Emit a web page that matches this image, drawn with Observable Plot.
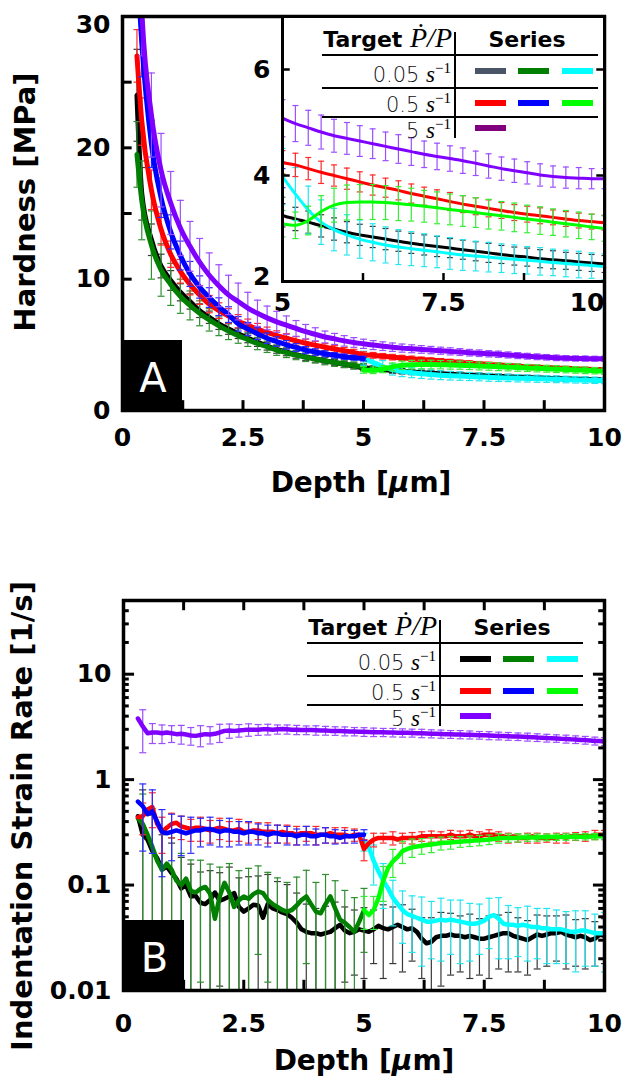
<!DOCTYPE html>
<html>
<head>
<meta charset="utf-8">
<script src="https://cdn.jsdelivr.net/npm/d3@7"></script>
<script src="https://cdn.jsdelivr.net/npm/@observablehq/plot@0.6"></script>
<style>
  body { margin: 0; background: #fff; }
  #root { position: relative; width: 627px; height: 1082px; overflow: hidden; background: #fff; }
  #root > svg { position: absolute; }
</style>
</head>
<body>
<div id="root"></div>
<script>
// ================= DATA =================
// ---- Panel A: Hardness [MPa] vs Depth [um] ----
const depthA = [0.3,0.4,0.6,0.8,1.0,1.2,1.4,1.6,1.8,2.0,2.2,2.4,2.6,2.8,3.0,3.2,3.4,3.6,3.8,4.0,4.2,4.4,4.6,4.8,5.0,
  5.2,5.4,5.6,5.8,6.0,6.2,6.4,6.6,6.8,7.0,7.2,7.4,7.6,7.8,8.0,8.2,8.4,8.6,8.8,9.0,9.2,9.4,9.6,9.8,10.0];
const depthA1 = depthA.slice(0, 25);   // 0.3 .. 5.0
const depthA2 = depthA.slice(24);      // 5.0 .. 10.0

const hardBlack = [24,16.5,13.0,11.0,9.9,9.0,8.3,7.6,7.1,6.6,6.2,5.85,5.5,5.2,4.9,4.65,4.45,4.25,4.08,3.93,3.79,3.65,3.52,3.4,3.25,
  3.18,3.12,3.05,2.99,2.93,2.88,2.84,2.8,2.76,2.72,2.69,2.66,2.63,2.6,2.57,2.54,2.51,2.48,2.46,2.43,2.41,2.39,2.37,2.35,2.33];
const errBlackA = [3.5,2.0,1.2,0.9,0.75,0.65,0.58,0.52,0.47,0.43,0.4,0.37,0.34,0.32,0.3,0.29,0.28,0.27,0.26,0.25,0.24,0.24,0.23,0.23,0.22,
  0.22,0.21,0.21,0.21,0.2,0.2,0.2,0.2,0.19,0.19,0.19,0.19,0.18,0.18,0.18,0.18,0.17,0.17,0.17,0.17,0.17,0.16,0.16,0.16,0.16];
const hardGreen = [19.5,16.0,12.6,10.7,9.6,8.7,8.0,7.4,6.9,6.45,6.05,5.7,5.4,5.1,4.85,4.6,4.4,4.22,4.06,3.92,3.78,3.65,3.54,3.43,3.33];
const errGreenA = [2.5,3.0,2.6,2.0,1.6,1.3,1.1,0.95,0.85,0.75,0.65,0.58,0.52,0.47,0.43,0.4,0.37,0.35,0.33,0.31,0.3,0.29,0.28,0.27,0.26];
const hardCyan = [3.98,3.65,3.35,3.12,2.98,2.88,2.8,2.74,2.69,2.65,2.62,2.59,2.56,2.53,2.5,2.48,2.46,2.44,2.42,2.4,2.38,2.36,2.34,2.32,2.3,2.28];
const errCyanA = [0.53,0.5,0.45,0.42,0.4,0.38,0.36,0.35,0.34,0.33,0.32,0.31,0.3,0.3,0.29,0.28,0.28,0.27,0.27,0.26,0.26,0.25,0.25,0.25,0.24,0.24];
const hardRed = [27,22,16.8,13.8,11.9,10.6,9.6,8.8,8.1,7.6,7.2,6.8,6.5,6.2,5.95,5.7,5.5,5.3,5.12,4.97,4.82,4.68,4.55,4.42,4.25,
  4.2,4.13,4.06,4.0,3.94,3.88,3.82,3.77,3.72,3.66,3.61,3.56,3.51,3.46,3.42,3.38,3.34,3.3,3.27,3.24,3.21,3.18,3.15,3.13,3.11];
const errRedA = [2.0,1.8,1.5,1.2,1.0,0.9,0.8,0.72,0.66,0.6,0.55,0.5,0.46,0.43,0.4,0.37,0.35,0.33,0.31,0.29,0.27,0.26,0.25,0.24,0.22,
  0.22,0.21,0.21,0.2,0.2,0.19,0.19,0.18,0.18,0.18,0.17,0.17,0.17,0.16,0.16,0.16,0.15,0.15,0.15,0.15,0.14,0.14,0.14,0.14,0.14];
const hardBlue = [34,28,20.3,16.2,13.6,11.8,10.4,9.4,8.6,7.9,7.3,6.6,6.2,5.85,5.5,5.25,5.0,4.8,4.6,4.45,4.32,4.2,4.1,4.02,3.95];
const errBlueA = [3.0,2.6,1.8,1.5,1.3,1.1,0.95,0.85,0.75,0.68,0.6,0.55,0.5,0.45,0.4,0.36,0.33,0.3,0.27,0.25,0.23,0.21,0.2,0.19,0.18];
const hardLime = [3.09,3.06,3.15,3.32,3.44,3.49,3.5,3.5,3.49,3.47,3.45,3.42,3.39,3.36,3.33,3.3,3.27,3.24,3.21,3.18,3.15,3.12,3.09,3.06,3.03,3.0];
const errLimeA = [0.25,0.25,0.27,0.3,0.32,0.33,0.33,0.33,0.32,0.32,0.31,0.3,0.3,0.29,0.29,0.28,0.28,0.27,0.27,0.26,0.26,0.25,0.25,0.25,0.24,0.24];
const hardPurple = [40,30.5,22.5,18.3,15.8,13.9,12.5,11.3,10.3,9.5,8.8,8.3,7.8,7.4,7.05,6.75,6.5,6.25,6.0,5.8,5.6,5.45,5.3,5.18,5.08,
  4.98,4.9,4.82,4.75,4.7,4.65,4.6,4.55,4.5,4.45,4.4,4.36,4.32,4.28,4.23,4.18,4.13,4.09,4.05,4.01,3.98,3.96,3.95,3.94,3.94];
const errPurpleA = [4,3.5,3.2,2.8,2.4,2.1,1.9,1.8,1.7,1.6,1.5,1.4,1.2,1.0,0.9,0.8,0.7,0.6,0.55,0.5,0.45,0.42,0.4,0.37,0.35,
  0.34,0.33,0.32,0.31,0.3,0.29,0.28,0.27,0.27,0.26,0.25,0.25,0.24,0.24,0.23,0.23,0.22,0.22,0.21,0.21,0.2,0.2,0.2,0.19,0.19];

// ---- Panel B: Indentation strain rate [1/s] vs Depth [um] ----
const depthB = [0.3,0.4,0.5,0.6,0.7,0.8,0.9,1.0,1.1,1.2,1.3,1.4,1.5,1.6,1.7,1.8,1.9,2.0,2.1,2.2,2.3,2.4,2.5,2.6,2.7,2.8,2.9,3.0,
  3.1,3.2,3.3,3.4,3.5,3.6,3.7,3.8,3.9,4.0,4.1,4.2,4.3,4.4,4.5,4.6,4.7,4.8,4.9,5.0,5.1,5.2,5.3,5.4,5.5,5.6,5.7,5.8,5.9,6.0,
  6.1,6.2,6.3,6.4,6.5,6.6,6.7,6.8,6.9,7.0,7.1,7.2,7.3,7.4,7.5,7.6,7.7,7.8,7.9,8.0,8.1,8.2,8.3,8.4,8.5,8.6,8.7,8.8,8.9,9.0,
  9.1,9.2,9.3,9.4,9.5,9.6,9.7,9.8,9.9,10.0];
const depthB1 = depthB.slice(0, 48);  // 0.3 .. 5.0
const depthB2 = depthB.slice(47);     // 5.0 .. 10.0

const rateBlack = [0.45,0.30,0.27,0.21,0.18,0.14,0.15,0.13,0.115,0.093,
  0.10,0.078,0.079,0.068,0.066,0.072,0.085,0.071,0.074,0.078,
  0.084,0.062,0.056,0.060,0.065,0.064,0.049,0.066,0.060,0.058,
  0.055,0.053,0.049,0.044,0.038,0.036,0.035,0.035,0.034,0.035,
  0.036,0.039,0.042,0.037,0.035,0.036,0.038,0.037,0.036,0.038,
  0.041,0.039,0.038,0.040,0.042,0.040,0.038,0.039,0.036,0.031,
  0.028,0.029,0.032,0.033,0.033,0.034,0.033,0.033,0.032,0.033,
  0.032,0.031,0.031,0.032,0.033,0.034,0.035,0.035,0.033,0.032,
  0.031,0.030,0.032,0.034,0.033,0.034,0.035,0.035,0.036,0.034,
  0.033,0.032,0.033,0.032,0.030,0.031,0.034,0.033];
const rateGreen = [0.43,0.38,0.30,0.23,0.17,0.14,0.16,0.14,0.11,0.10,
  0.115,0.088,0.085,0.092,0.096,0.083,0.048,0.078,0.105,0.085,
  0.062,0.072,0.078,0.074,0.082,0.087,0.084,0.072,0.066,0.062,
  0.058,0.056,0.058,0.064,0.072,0.078,0.066,0.056,0.054,0.066,
  0.078,0.060,0.047,0.044,0.040,0.036,0.045,0.058];
const rateCyan = [0.26,0.23,0.17,0.135,0.11,0.093,0.076,0.066,0.058,0.053,
  0.051,0.049,0.047,0.045,0.045,0.046,0.047,0.046,0.047,0.046,
  0.045,0.044,0.043,0.043,0.044,0.046,0.050,0.052,0.048,0.043,
  0.042,0.042,0.041,0.042,0.041,0.040,0.040,0.039,0.039,0.038,
  0.038,0.038,0.037,0.036,0.036,0.037,0.037,0.036,0.035,0.035,0.035];
const rateRed = [0.44,0.45,0.52,0.55,0.38,0.32,0.35,0.38,0.39,0.36,
  0.35,0.34,0.35,0.35,0.34,0.33,0.34,0.35,0.34,0.33,
  0.33,0.34,0.32,0.32,0.33,0.33,0.32,0.32,0.32,0.31,
  0.32,0.31,0.31,0.30,0.31,0.31,0.31,0.30,0.30,0.30,
  0.31,0.30,0.30,0.30,0.29,0.30,0.30,0.22,0.25,0.27,
  0.28,0.28,0.28,0.28,0.27,0.28,0.28,0.28,0.28,0.29,
  0.29,0.29,0.29,0.29,0.29,0.30,0.29,0.29,0.29,0.30,
  0.29,0.29,0.30,0.30,0.30,0.29,0.29,0.28,0.29,0.28,
  0.28,0.28,0.29,0.28,0.28,0.28,0.28,0.28,0.29,0.28,
  0.29,0.29,0.29,0.29,0.29,0.30,0.30,0.30];
const rateBlue = [0.62,0.56,0.47,0.50,0.40,0.32,0.31,0.32,0.33,0.32,
  0.31,0.32,0.33,0.33,0.34,0.34,0.33,0.32,0.33,0.33,
  0.32,0.32,0.31,0.32,0.32,0.31,0.31,0.30,0.31,0.31,
  0.30,0.30,0.30,0.29,0.30,0.30,0.29,0.29,0.30,0.30,
  0.29,0.29,0.28,0.29,0.29,0.29,0.30,0.30];
const rateLime = [0.058,0.052,0.058,0.075,0.11,0.145,0.168,0.185,0.21,0.22,
  0.228,0.232,0.236,0.24,0.243,0.246,0.25,0.252,0.254,0.256,
  0.258,0.26,0.262,0.264,0.266,0.268,0.27,0.274,0.278,0.279,
  0.28,0.28,0.281,0.282,0.282,0.283,0.283,0.284,0.284,0.285,
  0.285,0.286,0.286,0.287,0.287,0.288,0.288,0.289,0.289,0.29,0.29];
const ratePurple = [3.8,3.2,2.75,2.8,2.8,2.75,2.8,2.75,2.7,2.72,
  2.68,2.62,2.6,2.65,2.7,2.68,2.72,2.8,2.9,2.92,
  2.9,2.93,2.95,2.98,2.97,2.98,3.0,3.0,2.98,3.0,
  3.02,3.0,2.98,2.97,2.96,2.95,2.95,2.94,2.93,2.92,
  2.9,2.9,2.89,2.88,2.86,2.86,2.85,2.84,2.83,2.82,
  2.82,2.81,2.8,2.8,2.79,2.78,2.78,2.77,2.76,2.75,
  2.74,2.73,2.72,2.71,2.7,2.69,2.68,2.68,2.67,2.66,
  2.65,2.64,2.63,2.62,2.61,2.6,2.59,2.58,2.57,2.56,
  2.55,2.54,2.53,2.51,2.5,2.48,2.47,2.46,2.44,2.43,
  2.41,2.4,2.38,2.37,2.35,2.33,2.32,2.3];

// error bars in panel B (± in 1/s), drawn every 0.2 um
const depthErrB = [0.4,0.6,0.8,1.0,1.2,1.4,1.6,1.8,2.0,2.2,2.4,2.6,2.8,3.0,3.2,3.4,3.6,3.8,4.0,4.2,4.4,4.6,4.8,5.0,
  5.2,5.4,5.6,5.8,6.0,6.2,6.4,6.6,6.8,7.0,7.2,7.4,7.6,7.8,8.0,8.2,8.4,8.6,8.8,9.0,9.2,9.4,9.6,9.8,10.0];
const depthErrB1 = depthErrB.slice(0, 24); // 0.4 .. 5.0
const depthErrB2 = depthErrB.slice(23);    // 5.0 .. 10.0
const errBlackB = [0.5,0.25,0.16,0.12,0.09,0.08,0.065,0.065,0.06,0.07,0.055,0.06,0.058,0.06,0.05,0.048,0.04,0.03,0.025,0.028,
  0.03,0.025,0.022,0.024,0.02,0.026,0.022,0.025,0.02,0.018,0.02,0.022,0.02,0.018,0.02,0.017,0.019,0.018,0.02,0.017,
  0.016,0.018,0.017,0.016,0.018,0.015,0.016,0.014,0.015];
const errGreenB = [0.35,0.3,0.2,0.14,0.1,0.085,0.08,0.075,0.07,0.075,0.065,0.07,0.065,0.06,0.055,0.05,0.055,0.06,0.05,0.06,0.05,0.045,0.04,0.035];
const errCyanB = [0.05,0.07,0.05,0.035,0.03,0.028,0.03,0.025,0.028,0.025,0.027,0.024,0.022,0.025,0.028,0.022,0.02,0.022,0.02,0.021,0.02,0.019,0.021,0.02,0.018,0.02];
const errRedB = [0.15,0.2,0.12,0.1,0.09,0.08,0.09,0.08,0.08,0.07,0.08,0.07,0.06,0.07,0.06,0.06,0.06,0.05,0.06,0.05,
  0.05,0.05,0.04,0.05,0.04,0.03,0.04,0.03,0.035,0.03,0.035,0.03,0.03,0.035,0.03,0.03,0.035,0.03,0.03,0.025,
  0.03,0.03,0.025,0.03,0.03,0.025,0.03,0.03,0.03];
const errBlueB = [0.35,0.3,0.2,0.15,0.13,0.12,0.1,0.1,0.09,0.1,0.08,0.08,0.07,0.07,0.06,0.06,0.05,0.06,0.05,0.05,0.045,0.04,0.04,0.035];
const errLimeB = [0.02,0.02,0.04,0.05,0.05,0.045,0.04,0.04,0.035,0.035,0.03,0.03,0.03,0.028,0.028,0.025,0.025,0.022,0.022,0.02,0.02,0.02,0.02,0.02,0.02,0.02];
const errPurpleB = [1.4,0.6,0.55,0.5,0.55,0.5,0.6,0.5,0.55,0.45,0.4,0.4,0.35,0.35,0.3,0.3,0.3,0.28,0.3,0.28,
  0.27,0.28,0.26,0.27,0.26,0.25,0.26,0.25,0.24,0.25,0.24,0.24,0.23,0.24,0.23,0.22,0.23,0.22,0.22,0.21,
  0.22,0.21,0.21,0.2,0.21,0.2,0.2,0.2,0.2];

// ---- colours ----
const lineColors = {black: "#000000", green: "#007f00", cyan: "#00ffff", red: "#ff0000", blue: "#0000ff", lime: "#00ff00", purple: "#7f00ff"};
const barColors  = {black: "#383838", green: "#2f8f2f", cyan: "#22e6f0", red: "#ff2a2a", blue: "#2a2aff", lime: "#33ee33", purple: "#9b4dff"};

// ---- ticks & legend text ----
const xLabelTicks = [0, 2.5, 5, 7.5, 10];
const xMinorTicks = [1.25, 2.5, 3.75, 5, 6.25, 7.5, 8.75];
const yLabelTicksA = [0, 10, 20, 30];
const yMinorTicksA = [5, 10, 15, 20, 25];
const insetXLabels = [5, 7.5, 10];
const insetXTicks = [6.25, 7.5, 8.75];
const insetYTicks = [2, 4, 6];
const yLabelTicksB = [0.01, 0.1, 1, 10];
const yMajorTicksB = [0.1, 1, 10];
const yMinorTicksB = [0.02,0.03,0.04,0.05,0.06,0.07,0.08,0.09,0.2,0.3,0.4,0.5,0.6,0.7,0.8,0.9,2,3,4,5,6,7,8,9,20,30,40];
const legendRates = ["0.05", "0.5", "5"];
const legendColorsA = [["#4a5668", "#007f00", "#00ffff"], ["#ff0000", "#0000ff", "#00ff00"], ["#800080"]];
const legendColorsB = [["#000000", "#007f00", "#00ffff"], ["#ff0000", "#0000ff", "#00ff00"], ["#7f00ff"]];

// ================= BUILD =================
function check(a, b, name) { if (a.length !== b.length) throw new Error("length mismatch " + name + " " + a.length + " vs " + b.length); }
function rowsA(depths, vals, errs, name) {
  check(depths, vals, name); check(depths, errs, name + " err");
  return depths.map((d, i) => ({d, v: vals[i], lo: vals[i] - errs[i], hi: vals[i] + errs[i]}));
}
function rowsLine(depths, vals, name) { check(depths, vals, name); return depths.map((d, i) => ({d, v: vals[i]})); }
function rowsErrB(depths, errs, lineRows, name) {
  check(depths, errs, name);
  const m = new Map(lineRows.map(r => [Math.round(r.d * 10), r.v]));
  return depths.map((d, i) => {
    const v = m.get(Math.round(d * 10));
    return {d, v, lo: Math.max(v - errs[i], 0.004), hi: v + errs[i]};
  });
}

const capSymbol = {
  draw(context, size) {
    const r = Math.sqrt(size / Math.PI);
    context.moveTo(-r, 0);
    context.lineTo(r, 0);
  }
};

function seriesMarks(lineRows, errRows, key, o) {
  return [
    Plot.ruleX(errRows, {x: "d", y1: "lo", y2: "hi", stroke: barColors[key], strokeWidth: o.ew, clip: true}),
    Plot.dot(errRows, {x: "d", y: "lo", symbol: capSymbol, r: o.cap, stroke: barColors[key], strokeWidth: o.ew, fill: "none", clip: true}),
    Plot.dot(errRows, {x: "d", y: "hi", symbol: capSymbol, r: o.cap, stroke: barColors[key], strokeWidth: o.ew, fill: "none", clip: true}),
    Plot.line(lineRows, {x: "d", y: "v", stroke: lineColors[key], strokeWidth: o.lw, curve: o.curve, clip: true, strokeLinejoin: "round"})
  ];
}

// inward tick marks as Plot rules (lengths given in data units along the frame edge)
function ticksX(values, edge, tip, sw) {
  return Plot.ruleX(values, {x: d => d, y1: () => edge, y2: () => tip, stroke: "#000", strokeWidth: sw});
}
function ticksY(values, edge, tip, sw) {
  return Plot.ruleY(values, {y: d => d, x1: () => edge, x2: () => tip, stroke: "#000", strokeWidth: sw});
}

const seriesA = [
  ["black", rowsA(depthA, hardBlack, errBlackA, "black")],
  ["green", rowsA(depthA1, hardGreen, errGreenA, "green")],
  ["cyan", rowsA(depthA2, hardCyan, errCyanA, "cyan")],
  ["red", rowsA(depthA, hardRed, errRedA, "red")],
  ["blue", rowsA(depthA1, hardBlue, errBlueA, "blue")],
  ["lime", rowsA(depthA2, hardLime, errLimeA, "lime")],
  ["purple", rowsA(depthA, hardPurple, errPurpleA, "purple")]
];

const lineB = {
  black: rowsLine(depthB, rateBlack, "rb"), green: rowsLine(depthB1, rateGreen, "rg"), cyan: rowsLine(depthB2, rateCyan, "rc"),
  red: rowsLine(depthB, rateRed, "rr"), blue: rowsLine(depthB1, rateBlue, "rbl"), lime: rowsLine(depthB2, rateLime, "rl"),
  purple: rowsLine(depthB, ratePurple, "rp")
};
const seriesB = [
  ["black", lineB.black, rowsErrB(depthErrB, errBlackB, lineB.black, "eb")],
  ["green", lineB.green, rowsErrB(depthErrB1, errGreenB, lineB.green, "eg")],
  ["cyan", lineB.cyan, rowsErrB(depthErrB2, errCyanB, lineB.cyan, "ec")],
  ["red", lineB.red, rowsErrB(depthErrB, errRedB, lineB.red, "er")],
  ["blue", lineB.blue, rowsErrB(depthErrB1, errBlueB, lineB.blue, "ebl")],
  ["lime", lineB.lime, rowsErrB(depthErrB2, errLimeB, lineB.lime, "el")],
  ["purple", lineB.purple, rowsErrB(depthErrB, errPurpleB, lineB.purple, "ep")]
];

const baseStyle = {fontFamily: "DejaVu Sans", fontWeight: "bold", fontSize: "25px", color: "#000", background: "transparent", overflow: "visible"};
const fmt = d => String(d);
const root = document.getElementById("root");

function nudgeLabel(svg, axis, label, dy) {
  svg.querySelectorAll(`g[aria-label="${axis}-axis tick label"] text`).forEach(t => {
    if (t.textContent === label) {
      const tr = t.getAttribute("transform");
      t.setAttribute("transform", (tr ? tr + " " : "") + `translate(0,${dy})`);
    }
  });
}

// ---- Panel A ----
const plotA = Plot.plot({
  width: 627, height: 500,
  marginLeft: 122, marginRight: 23, marginTop: 16, marginBottom: 90,
  x: {domain: [0, 10]},
  y: {domain: [0, 30]},
  style: baseStyle,
  marks: [
    ...seriesA.flatMap(([k, rows]) => seriesMarks(rows, rows, k, {ew: 1.2, cap: 3.5, lw: 5, curve: "monotone-x"})),
    Plot.axisX({ticks: xLabelTicks, tickFormat: fmt, tickSize: 0, tickPadding: 18, label: null}),
    Plot.axisY({ticks: yLabelTicksA, tickFormat: fmt, tickSize: 0, tickPadding: 12, label: null}),
    ticksX(xMinorTicks, 0, 0.75, 3),
    ticksY(yMinorTicksA, 0, 0.2, 3),
    Plot.frame({stroke: "#000", strokeWidth: 3.5})
  ]
});
plotA.style.left = "0px"; plotA.style.top = "0px";
root.appendChild(plotA);
nudgeLabel(plotA, "y", "30", 8);

// ---- Inset of panel A ----
const plotI = Plot.plot({
  width: 356, height: 310,
  marginLeft: 32, marginRight: 2, marginTop: 2, marginBottom: 43,
  x: {domain: [5, 10]},
  y: {domain: [2, 7]},
  style: baseStyle,
  marks: [
    Plot.frame({fill: "white", stroke: "none"}),
    ...seriesA.flatMap(([k, rows]) => {
      const r = rows.filter(d => d.d >= 4.8);
      return seriesMarks(r, r, k, {ew: 1.2, cap: 3, lw: 3, curve: "monotone-x"});
    }),
    Plot.axisX({ticks: insetXLabels, tickFormat: fmt, tickSize: 0, tickPadding: 12, label: null}),
    Plot.axisY({ticks: insetYTicks, tickFormat: fmt, tickSize: 0, tickPadding: 12, label: null}),
    ticksX(insetXTicks, 2, 2.15, 2.5),
    ticksY(insetYTicks, 5, 5.12, 2.5),
    ticksY(insetYTicks, 10, 9.88, 2.5),
    Plot.frame({stroke: "#000", strokeWidth: 3})
  ]
});
plotI.style.left = "250px"; plotI.style.top = "14px";
root.appendChild(plotI);
{
  const labs = plotI.querySelectorAll('g[aria-label="x-axis tick label"] text');
  if (labs.length) labs[labs.length - 1].setAttribute("text-anchor", "end");
  nudgeLabel(plotI, "y", "2", -5);
}

// ---- Panel B ----
const plotB = Plot.plot({
  width: 627, height: 522,
  marginLeft: 123, marginRight: 23, marginTop: 40, marginBottom: 92,
  x: {domain: [0, 10]},
  y: {type: "log", domain: [0.01, 50]},
  style: baseStyle,
  marks: [
    ...seriesB.flatMap(([k, line, err]) => seriesMarks(line, err, k, {ew: 1.2, cap: 3.5, lw: 4.5, curve: "linear"})),
    Plot.axisX({ticks: xLabelTicks, tickFormat: fmt, tickSize: 0, tickPadding: 24, label: null}),
    Plot.axisY({ticks: yLabelTicksB, tickFormat: fmt, tickSize: 0, tickPadding: 12, label: null}),
    ticksX(xMinorTicks, 0.01, 0.0125, 3),
    ticksX(xMinorTicks, 50, 40, 3),
    ticksY(yMajorTicksB, 0, 0.23, 3),
    ticksY(yMinorTicksB, 0, 0.12, 3),
    ticksY(yMajorTicksB, 10, 9.77, 3),
    ticksY(yMinorTicksB, 10, 9.88, 3),
    Plot.frame({stroke: "#000", strokeWidth: 3.5})
  ]
});
plotB.style.left = "0px"; plotB.style.top = "560px";
root.appendChild(plotB);

// ---- Overlay: axis titles, panel tags, legends ----
const ov = d3.select(root).append("svg").attr("width", 627).attr("height", 1082)
  .style("left", "0px").style("top", "0px").style("pointer-events", "none");

function depthTitle(x, y) {
  const t = ov.append("text").attr("x", x).attr("y", y).attr("text-anchor", "middle")
    .attr("font-family", "DejaVu Sans").attr("font-weight", "bold").attr("font-size", 28);
  t.append("tspan").text("Depth [");
  t.append("tspan").attr("font-style", "italic").text("\u03bc");
  t.append("tspan").text("m]");
}
depthTitle(361, 492);
depthTitle(364, 1070);

function yTitle(x, y, s) {
  ov.append("text").attr("transform", `translate(${x},${y}) rotate(-90)`).attr("text-anchor", "middle")
    .attr("font-family", "DejaVu Sans").attr("font-weight", "bold").attr("font-size", 29).text(s);
}
yTitle(35, 202, "Hardness [MPa]");
yTitle(32, 816, "Indentation Strain Rate [1/s]");

function tag(x, y, w, h, s) {
  ov.append("rect").attr("x", x).attr("y", y).attr("width", w).attr("height", h).attr("fill", "#000");
  ov.append("text").attr("x", x + w / 2 + 1).attr("y", y + h - 18).attr("text-anchor", "middle")
    .attr("font-family", "DejaVu Sans").attr("font-size", 40).attr("fill", "#fff").text(s);
}
tag(122, 340, 60, 70, "A");
tag(123, 920, 61, 70, "B");

function legend(ox, oy, colors) {
  const g = ov.append("g");
  const h = g.append("text").attr("x", ox - 3).attr("y", oy).attr("text-anchor", "end");
  h.append("tspan").attr("font-family", "DejaVu Sans").attr("font-weight", "bold").attr("font-size", 22).text("Target ");
  h.append("tspan").attr("font-family", "Liberation Serif").attr("font-style", "italic").attr("font-size", 28).text("P\u0307/P");
  g.append("text").attr("x", ox + 72).attr("y", oy).attr("text-anchor", "middle")
    .attr("font-family", "DejaVu Sans").attr("font-weight", "bold").attr("font-size", 22).text("Series");
  g.append("line").attr("x1", ox).attr("x2", ox).attr("y1", oy - 15).attr("y2", oy + 91).attr("stroke", "#000").attr("stroke-width", 2);
  [8, 41, 70].forEach(dy => g.append("line").attr("x1", ox - 133).attr("x2", ox + 143)
    .attr("y1", oy + dy).attr("y2", oy + dy).attr("stroke", "#000").attr("stroke-width", 2));
  const rowBase = [35, 65, 91], rowMid = [24, 56, 81], swX = [20, 63, 107];
  legendRates.forEach((rate, i) => {
    const t = g.append("text").attr("x", ox - 4).attr("y", oy + rowBase[i]).attr("text-anchor", "end");
    t.append("tspan").attr("font-family", "DejaVu Sans").attr("font-size", 21).attr("font-weight", 300).attr("fill", "#111").text(rate + " ");
    t.append("tspan").attr("font-family", "Liberation Serif").attr("font-style", "italic").attr("font-size", 23).text("s");
    t.append("tspan").attr("font-family", "Liberation Serif").attr("font-size", 15).attr("dy", -9).text("\u22121");
    colors[i].forEach((c, j) => g.append("rect").attr("x", ox + swX[j]).attr("y", oy + rowMid[i] - 3)
      .attr("width", 31).attr("height", 6).attr("fill", c));
  });
}
legend(455, 47, legendColorsA);
legend(440, 635, legendColorsB);
</script>
</body>
</html>
